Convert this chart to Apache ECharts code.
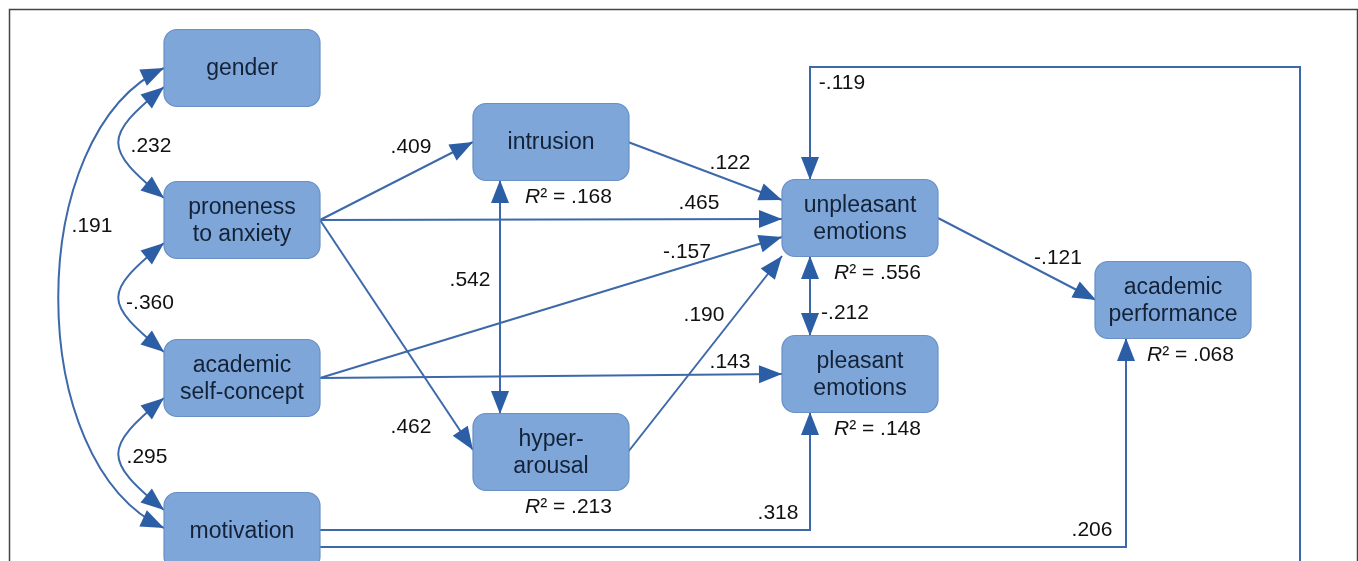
<!DOCTYPE html>
<html>
<head>
<meta charset="utf-8">
<script src="https://cdn.jsdelivr.net/npm/echarts@6.0.0/dist/echarts.min.js"></script>
<style>
html, body { margin: 0; padding: 0; background: #fff; }
#main { width: 1358px; height: 561px; }
</style>
</head>
<body>
<div id="main"></div>
<script>
// boxes of the path model (layout in chart units, y grows downwards)
var nodeNames = ['gender', 'proneness\nto anxiety', 'academic\nself-concept', 'motivation',
  'intrusion', 'hyper-\narousal', 'unpleasant\nemotions', 'pleasant\nemotions', 'academic\nperformance'];
var nodeX = [242, 242, 242, 242, 551, 551, 860, 860, 1173];
var nodeY = [68, 220, 378, 531, 142, 452, 218, 374, 300];
var nodeR2 = ['', '', '', '', '.168', '.213', '.556', '.148', '.068'];

// paths between boxes and their coefficients
var pathFrom = [0, 1, 2, 0, 1, 1, 1, 4, 4, 2, 2, 5, 6, 6, 3, 3, 3];
var pathTo   = [1, 2, 3, 3, 4, 6, 5, 5, 6, 6, 7, 6, 7, 8, 7, 8, 6];
var pathCoef = ['.232', '-.360', '.295', '.191', '.409', '.465', '.462', '.542', '.122',
  '-.157', '.143', '.190', '-.212', '-.121', '.318', '.206', '-.119'];
var pathKind = ['curve', 'curve', 'curve', 'curve', 'line', 'line', 'line', 'both', 'line',
  'line', 'line', 'line', 'both', 'line', 'elbow', 'elbow', 'elbow'];
// where a path leaves / enters a box, relative to the box centre
var pathStart = [[-78, 19], [-78, 23], [-78, 20], [-78, 0], [78, 0], [78, 0], [78, 0], [-51, 38],
  [77, 0], [78, 0], [78, 0], [77, 0], [-50, 38], [78, 0], [78, -1], [78, 16], [78, 35]];
var pathEnd = [[-78, -22], [-78, -26], [-78, -21], [-78, -3], [-78, 0], [-78, 1], [-78, -2], [-51, -38],
  [-78, -18], [-78, 19], [-78, 0], [-78, 38], [-50, -38], [-77, 0], [-50, 38], [-47, 38], [-50, -38]];
var pathBulge = [[61, 50], [61, 50], [61, 50], [141, 65]];
var pathVia = {14: [[810, 530]], 15: [[1126, 547]], 16: [[1300, 566], [1300, 67], [810, 67]]};
var labelX = [151, 150, 147, 92, 411, 699, 411, 470, 730, 687, 730, 704, 845, 1058, 778, 1092, 842];
var labelY = [146, 303, 457, 226, 147, 203, 427, 280, 163, 252, 362, 315, 313, 258, 513, 530, 83];

var BOX_W = 156, BOX_H = 77;
var LINE = '#3d69aa', HEAD = '#2c5ea6', FILL = '#7ea6d8', EDGE = '#6890c6';

function head(api, tip, from) {
  var t = api.coord(tip), f = api.coord(from);
  var dx = t[0] - f[0], dy = t[1] - f[1], len = Math.sqrt(dx * dx + dy * dy) || 1;
  dx /= len; dy /= len;
  var L = 23, W = 9;
  var bx = t[0] - dx * L, by = t[1] - dy * L;
  return {
    type: 'polygon',
    shape: { points: [t, [bx - dy * W, by + dx * W], [bx + dy * W, by - dx * W]] },
    style: { fill: HEAD }
  };
}

function renderPath(params, api) {
  var i = api.value(0);
  var a = pathFrom[i], b = pathTo[i];
  var p0 = [nodeX[a] + pathStart[i][0], nodeY[a] + pathStart[i][1]];
  var p1 = [nodeX[b] + pathEnd[i][0], nodeY[b] + pathEnd[i][1]];
  var kids = [];
  var ls = { stroke: LINE, lineWidth: 2, fill: null };
  if (pathKind[i] === 'curve') {
    var bw = pathBulge[i][0], bv = pathBulge[i][1];
    var c1 = [p0[0] - bw, p0[1] + bv], c2 = [p1[0] - bw, p1[1] - bv];
    var s0 = api.coord(p0), s1 = api.coord(p1), sc1 = api.coord(c1), sc2 = api.coord(c2);
    kids.push({
      type: 'bezierCurve',
      shape: { x1: s0[0], y1: s0[1], x2: s1[0], y2: s1[1], cpx1: sc1[0], cpy1: sc1[1], cpx2: sc2[0], cpy2: sc2[1] },
      style: ls
    });
    kids.push(head(api, p0, c1));
    kids.push(head(api, p1, c2));
  } else {
    var pts = [p0].concat(pathVia[i] || []).concat([p1]);
    kids.push({ type: 'polyline', shape: { points: pts.map(function (p) { return api.coord(p); }) }, style: ls });
    kids.push(head(api, p1, pts[pts.length - 2]));
    if (pathKind[i] === 'both') kids.push(head(api, p0, pts[1]));
  }
  return { type: 'group', children: kids };
}

function renderNode(params, api) {
  var i = api.value(0);
  var tl = api.coord([nodeX[i] - BOX_W / 2, nodeY[i] - BOX_H / 2]);
  var c = api.coord([nodeX[i], nodeY[i]]);
  var kids = [
    {
      type: 'rect',
      shape: { x: tl[0], y: tl[1], width: BOX_W, height: BOX_H, r: 13 },
      style: { fill: FILL, stroke: EDGE, lineWidth: 1.2 }
    },
    {
      type: 'text',
      style: {
        text: nodeNames[i], x: c[0], y: c[1] + 1, align: 'center', verticalAlign: 'middle',
        fontSize: 23, lineHeight: 27, fontFamily: 'Liberation Sans, Arial, sans-serif', fill: '#142238'
      }
    }
  ];
  if (nodeR2[i]) {
    kids.push({
      type: 'text',
      style: {
        text: '{i|R}² = ' + nodeR2[i], x: c[0] - 26, y: c[1] + 55, align: 'left', verticalAlign: 'middle',
        fontSize: 21, fontFamily: 'Liberation Sans, Arial, sans-serif', fill: '#111',
        rich: { i: { fontStyle: 'italic', fontSize: 21, fontFamily: 'Liberation Sans, Arial, sans-serif', fill: '#111' } }
      }
    });
  }
  return { type: 'group', children: kids };
}

function renderLabel(params, api) {
  var i = api.value(0);
  var c = api.coord([labelX[i], labelY[i]]);
  return {
    type: 'text',
    style: {
      text: pathCoef[i], x: c[0], y: c[1], align: 'center', verticalAlign: 'middle',
      fontSize: 21, fontFamily: 'Liberation Sans, Arial, sans-serif', fill: '#111'
    }
  };
}

var chart = echarts.init(document.getElementById('main'));
chart.setOption({
  animation: false,
  grid: { left: 0, right: 0, top: 0, bottom: 0 },
  xAxis: { type: 'value', min: 0, max: 1358, show: false },
  yAxis: { type: 'value', min: 0, max: 561, inverse: true, show: false },
  graphic: [{
    type: 'rect', left: 7, top: 7,
    shape: { width: 1348, height: 600 },
    style: { fill: null, stroke: '#444', lineWidth: 1.5 }
  }],
  series: [
    { type: 'custom', renderItem: renderPath, data: pathFrom.map(function (d, i) { return [i]; }), z: 2 },
    { type: 'custom', renderItem: renderNode, data: nodeNames.map(function (d, i) { return [i]; }), z: 3 },
    { type: 'custom', renderItem: renderLabel, data: pathCoef.map(function (d, i) { return [i]; }), z: 4 }
  ]
});
</script>
</body>
</html>
